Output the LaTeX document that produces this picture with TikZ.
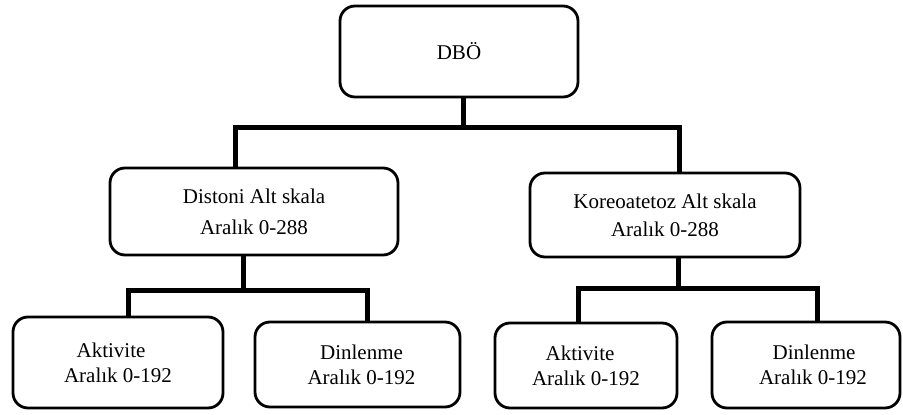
\documentclass[tikz,border=0pt]{standalone}
\usepackage{fontspec}
\setmainfont{Liberation Serif}
\begin{document}
\begin{tikzpicture}[x=1pt,y=-1pt,
  box/.style={draw=black,line width=2.8pt,rounded corners=15pt,inner sep=0pt,align=center,
    font=\fontsize{21}{31}\selectfont},
  lowbox/.style={box,font=\fontsize{21}{25}\selectfont},
  conn/.style={draw=black,line width=5pt,line cap=rect}]
\useasboundingbox (0,0) rectangle (903,415);
\fill[white] (0,0) rectangle (903,415);
% boxes
\node[box,minimum width=238pt,minimum height=91pt] (dbo) at (459,51.5) {DBÖ};
\node[box,minimum width=288pt,minimum height=87pt] (mL) at (254,211.5) {Distoni Alt skala\\Aralık 0-288};
\node[box,minimum width=270pt,minimum height=84pt,font=\fontsize{21}{28}\selectfont] (mR) at (665,215) {Koreoatetoz Alt skala\\Aralık 0-288};
\node[lowbox,minimum width=210pt,minimum height=91pt] (b1) at (118,362.5) {Aktivite\hspace*{14pt}\\Aralık 0-192};
\node[lowbox,minimum width=205pt,minimum height=85pt] (b2) at (357.5,364.5) {\hspace*{8pt}Dinlenme\\\hspace*{8pt}Aralık 0-192};
\node[lowbox,minimum width=182pt,minimum height=85pt] (b3) at (586,365.5) {Aktivite\hspace*{12pt}\\Aralık 0-192};
\node[lowbox,minimum width=188pt,minimum height=86pt] (b4) at (806,365) {\hspace*{16pt}Dinlenme\\\hspace*{14pt}Aralık 0-192};
% top connectors
\coordinate (tM) at (463,127);
\coordinate (tL) at (235,127);
\coordinate (tR) at (679,127);
\draw[conn] (dbo.south -| tM) -- (tM);
\draw[conn] (tL) -- (tR);
\draw[conn] (tL) -- (tL |- mL.north);
\draw[conn] (tR) -- (tR |- mR.north);
% left sub connectors
\coordinate (lM) at (243,290);
\coordinate (lL) at (128,290);
\coordinate (lR) at (367,290);
\draw[conn] (mL.south -| lM) -- (lM);
\draw[conn] (lL) -- (lR);
\draw[conn] (lL) -- (lL |- b1.north);
\draw[conn] (lR) -- (lR |- b2.north);
% right sub connectors
\coordinate (rM) at (678,288);
\coordinate (rL) at (578,288);
\coordinate (rR) at (817,288);
\draw[conn] (mR.south -| rM) -- (rM);
\draw[conn] (rL) -- (rR);
\draw[conn] (rL) -- (rL |- b3.north);
\draw[conn] (rR) -- (rR |- b4.north);
\end{tikzpicture}
\end{document}
